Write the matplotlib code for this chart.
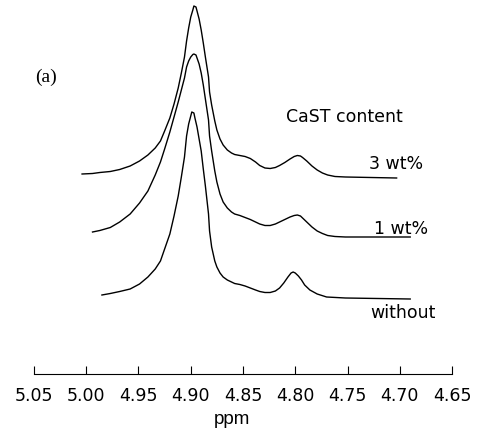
import matplotlib
matplotlib.use("Agg")
import matplotlib.pyplot as plt

# 1H NMR spectra, CaST content series (ppm, intensity above own baseline)
ppm_3wt = [5.004, 4.994, 4.987, 4.977, 4.968, 4.958, 4.949, 4.941, 4.934, 4.929,
           4.925, 4.920, 4.916, 4.912, 4.909, 4.906, 4.904, 4.902, 4.900, 4.898,
           4.897, 4.895, 4.894, 4.892, 4.890, 4.888, 4.886, 4.883, 4.882, 4.880,
           4.877, 4.875, 4.872, 4.869, 4.865, 4.861, 4.858, 4.853, 4.848, 4.843,
           4.838, 4.834, 4.829, 4.824, 4.819, 4.815, 4.810, 4.805, 4.801, 4.798,
           4.795, 4.793, 4.789, 4.784, 4.779, 4.774, 4.769, 4.762, 4.752, 4.703]
int_3wt = [4, 4.5, 5.5, 6.5, 8.5, 12, 17, 23, 30, 37,
           47, 60, 74, 90, 105, 121, 137, 150, 161, 168,
           172, 171, 167, 159, 148, 135, 121, 101, 86, 73,
           57, 48, 39, 33, 28, 25, 23.5, 22.5, 21.5, 19.5,
           16, 12.5, 10, 9.5, 10.5, 12.5, 15.5, 19, 21.5, 22.5,
           22, 20.5, 17, 12, 8, 5, 3, 1.5, 1, 0]

ppm_1wt = [4.994, 4.987, 4.977, 4.968, 4.958, 4.949, 4.941, 4.934, 4.929,
           4.925, 4.920, 4.916, 4.912, 4.909, 4.906, 4.904, 4.902, 4.900, 4.898,
           4.897, 4.895, 4.894, 4.892, 4.890, 4.888, 4.886, 4.883, 4.882, 4.880,
           4.877, 4.875, 4.872, 4.869, 4.865, 4.861, 4.858, 4.853, 4.848, 4.843,
           4.838, 4.834, 4.829, 4.824, 4.819, 4.815, 4.810, 4.805, 4.801, 4.798,
           4.795, 4.793, 4.789, 4.784, 4.779, 4.774, 4.769, 4.762, 4.752, 4.735,
           4.690]
int_1wt = [5, 6.5, 9.5, 15, 23, 34, 46, 62, 75,
           88, 105, 120, 135, 147, 159, 170, 176, 180, 182.5,
           183, 182, 179, 173, 164, 152, 138, 117, 101, 86,
           66, 55, 43, 35, 29, 25, 23, 21.5, 19.5, 17.5,
           15, 13, 11.5, 11.5, 13, 15, 17.5, 20, 21.5, 22,
           21, 19, 15, 10, 6, 3.5, 1.5, 0.5, 0, 0,
           0]

ppm_none = [4.985, 4.977, 4.968, 4.958, 4.949, 4.941, 4.934, 4.929, 4.925, 4.920,
            4.916, 4.912, 4.909, 4.906, 4.904, 4.902, 4.900, 4.899, 4.897, 4.896,
            4.894, 4.892, 4.890, 4.888, 4.886, 4.883, 4.882, 4.880, 4.877, 4.875,
            4.872, 4.869, 4.865, 4.861, 4.858, 4.853, 4.848, 4.843, 4.838, 4.834,
            4.829, 4.824, 4.819, 4.815, 4.811, 4.807, 4.804, 4.802, 4.800, 4.797,
            4.794, 4.791, 4.786, 4.779, 4.770, 4.752, 4.690]
int_none = [4, 5.5, 7.5, 10, 15, 22, 30, 38, 50, 65,
            83, 103, 122, 142, 163, 175, 183, 187, 186, 181,
            172, 160, 148, 130, 113, 85, 68, 52, 38, 32,
            26, 22, 19, 17, 15.5, 14.5, 13, 11, 9, 7.5,
            6.5, 6.5, 8, 11, 16, 22, 26, 27, 26, 23,
            19, 14, 9, 5, 2, 1, 0]

spectra = [
    (ppm_3wt, int_3wt, 196, "3 wt%", 4.704, 211),
    (ppm_1wt, int_1wt, 137, "1 wt%", 4.699, 146),
    (ppm_none, int_none, 75, "without", 4.697, 62),
]

fig = plt.figure(figsize=(4.8, 4.39), dpi=100)
ax = fig.add_axes([34 / 480, 64 / 439, 418 / 480, 375 / 439])

for x, y, offset, label, lx, ly in spectra:
    ax.plot(x, [v + offset for v in y], color="black", lw=1.0)
    ax.text(lx, ly, label, ha="center", va="center", fontsize=12.5)

ax.text(4.753, 258, "CaST content", ha="center", va="center", fontsize=12.5)
ax.text(5.0385, 298, "(a)", ha="center", va="center", fontsize=14,
        family="Liberation Serif")

ax.set_xlim(5.05, 4.65)
ax.set_ylim(0, 375)
ax.set_xticks([5.05, 5.00, 4.95, 4.90, 4.85, 4.80, 4.75, 4.70, 4.65])
ax.set_xticklabels(["5.05", "5.00", "4.95", "4.90", "4.85", "4.80", "4.75", "4.70", "4.65"])
ax.tick_params(axis="x", direction="in", length=6, width=0.8, pad=9, labelsize=12.5)
ax.set_yticks([])
for side in ["top", "right", "left"]:
    ax.spines[side].set_visible(False)
ax.spines["bottom"].set_linewidth(0.8)
ax.set_xlabel("ppm", fontsize=13.5, family="Liberation Sans", labelpad=4, x=0.474)

fig.savefig("out.png", dpi=100)
